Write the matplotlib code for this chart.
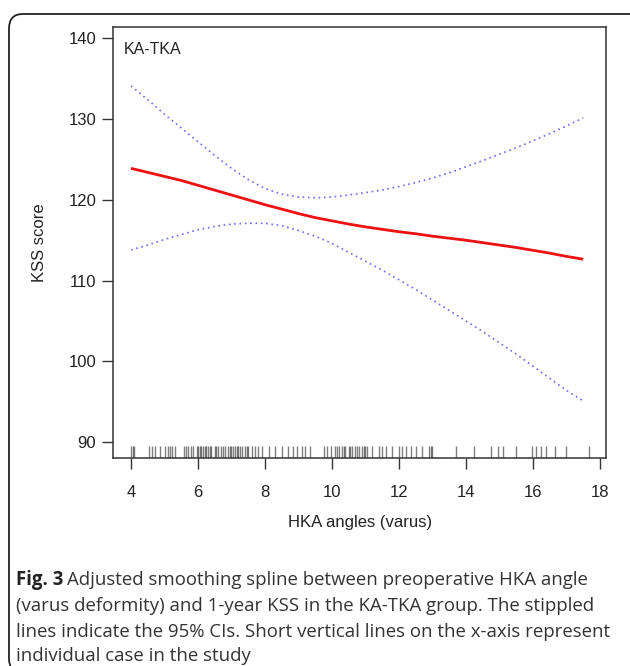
import numpy as np
import matplotlib
matplotlib.use("Agg")
import matplotlib.pyplot as plt
from matplotlib.patches import FancyBboxPatch
import matplotlib.transforms as mtransforms

# --- data ---
hka = [4, 4.5, 5, 5.5, 6, 6.5, 7, 7.5, 8, 8.5, 9, 9.5, 10, 10.5, 11, 11.5,
       12, 12.5, 13, 13.5, 14, 14.5, 15, 15.5, 16, 16.5, 17, 17.5]
kss_fit = [123.9, 123.4, 122.9, 122.4, 121.8, 121.2, 120.6, 120.0, 119.4,
           118.85, 118.3, 117.8, 117.4, 117.0, 116.65, 116.35, 116.05, 115.8,
           115.5, 115.25, 115.0, 114.7, 114.4, 114.1, 113.75, 113.4, 113.0,
           112.65]
kss_upper = [134.1, 132.4, 130.6, 128.9, 127.2, 125.5, 123.9, 122.5, 121.4,
             120.7, 120.35, 120.25, 120.35, 120.6, 120.9, 121.2, 121.65,
             122.15, 122.7, 123.35, 124.1, 124.85, 125.65, 126.45, 127.3,
             128.2, 129.15, 130.15]
kss_lower = [113.8, 114.4, 115.1, 115.7, 116.3, 116.7, 117.0, 117.1, 117.1,
             116.8, 116.2, 115.5, 114.6, 113.5, 112.4, 111.3, 110.1, 108.9,
             107.6, 106.3, 105.0, 103.7, 102.3, 100.9, 99.4, 97.9, 96.4, 95.1]

cases = [4.0, 4.05, 4.1, 4.54, 4.64, 4.72, 4.87, 5.03, 5.1, 5.16, 5.22, 5.3,
         5.57, 5.63, 5.7, 5.8, 5.85, 5.96, 6.0, 6.05, 6.1, 6.15, 6.2, 6.25,
         6.3, 6.35, 6.4, 6.5, 6.55, 6.6, 6.7, 6.75, 6.8, 6.9, 6.95, 7.0,
         7.05, 7.1, 7.15, 7.2, 7.25, 7.3, 7.4, 7.45, 7.5, 7.6, 7.7, 7.8, 7.9,
         8.12, 8.3, 8.5, 8.69, 8.85, 8.95, 9.1, 9.2, 9.35, 9.77, 9.85, 9.97,
         10.08, 10.15, 10.2, 10.3, 10.35, 10.4, 10.5, 10.55, 10.6, 10.7,
         10.75, 10.8, 10.9, 10.95, 11.0, 11.05, 11.2, 11.4, 11.5, 11.6, 11.8,
         12.0, 12.1, 12.2, 12.35, 12.5, 12.7, 12.9, 12.95, 13.0, 13.7, 14.25,
         14.76, 14.97, 15.12, 15.48, 15.98, 16.1, 16.25, 16.4, 16.67, 17.0,
         17.67]

xticks = [4, 6, 8, 10, 12, 14, 16, 18]
yticks = [90, 100, 110, 120, 130, 140]

caption_lines = [
    "Adjusted smoothing spline between preoperative HKA angle",
    "(varus deformity) and 1-year KSS in the KA-TKA group. The stippled",
    "lines indicate the 95% CIs. Short vertical lines on the x-axis represent",
    "individual case in the study",
]

W, H = 630, 666
fig = plt.figure(figsize=(W / 100, H / 100), dpi=100)
plt.rcParams["font.family"] = ["Liberation Sans", "DejaVu Sans"]

# outer rounded frame (runs off the right and bottom edge)
frame = FancyBboxPatch((9 / W, -7 / H), 640 / W, 659 / H,
                       boxstyle="round,pad=0,rounding_size=0.022",
                       transform=fig.transFigure, fill=False,
                       edgecolor="#222222", linewidth=1.3)
fig.patches.append(frame)

ax = fig.add_axes([113 / W, 1 - 458.3 / H, 493 / W, 431.3 / H])
ax.plot(hka, kss_fit, color="#ee1111", lw=2.0, solid_capstyle="butt")
ax.plot(hka, kss_upper, color="#6a6af2", lw=1.2, linestyle=(0, (1, 2.2)))
ax.plot(hka, kss_lower, color="#6a6af2", lw=1.2, linestyle=(0, (1, 2.2)))

# rug of individual cases
trans = mtransforms.blended_transform_factory(ax.transData, ax.transAxes)
ax.vlines(cases, 0, 0.029, transform=trans, color="black", alpha=0.5, lw=1.0)

ax.set_xlim(3.463, 18.18)
ax.set_ylim(88.0, 141.4)
ax.set_xticks(xticks)
ax.set_yticks(yticks)
for s in ax.spines.values():
    s.set_linewidth(1.1)
    s.set_color("#333333")
ax.tick_params(axis="both", direction="out", length=8, width=1.0,
               color="#333333", labelsize=12, labelcolor="#222222")
ax.tick_params(axis="x", pad=11)
ax.tick_params(axis="y", pad=4)

ax.text(0.022, 0.966, "KA-TKA", transform=ax.transAxes, fontsize=11.5,
        color="#222222", ha="left", va="top")
fig.text(40 / W, 1 - 243 / H, "KSS score", rotation=90, fontsize=12,
         color="#222222", ha="center", va="center")
fig.text(360 / W, 1 - 523 / H, "HKA angles (varus)", fontsize=12,
         color="#222222", ha="center", va="center")

# caption
cap_font = ["Open Sans", "DejaVu Sans"]
cap_size = 13.4
baselines = [585, 611, 637, 661]
bold = fig.text(16 / W, 1 - baselines[0] / H, "Fig. 3", fontsize=cap_size,
                family=cap_font, weight="bold", color="#222222",
                va="baseline")
fig.canvas.draw()
bb = bold.get_window_extent()
fig.text((bb.x1 + 4) / W, 1 - baselines[0] / H, caption_lines[0],
         fontsize=cap_size, family=cap_font, color="#333333", va="baseline")
for line, yb in zip(caption_lines[1:], baselines[1:]):
    fig.text(16 / W, 1 - yb / H, line, fontsize=cap_size, family=cap_font,
             color="#333333", va="baseline")

fig.savefig("out.png", dpi=100)
